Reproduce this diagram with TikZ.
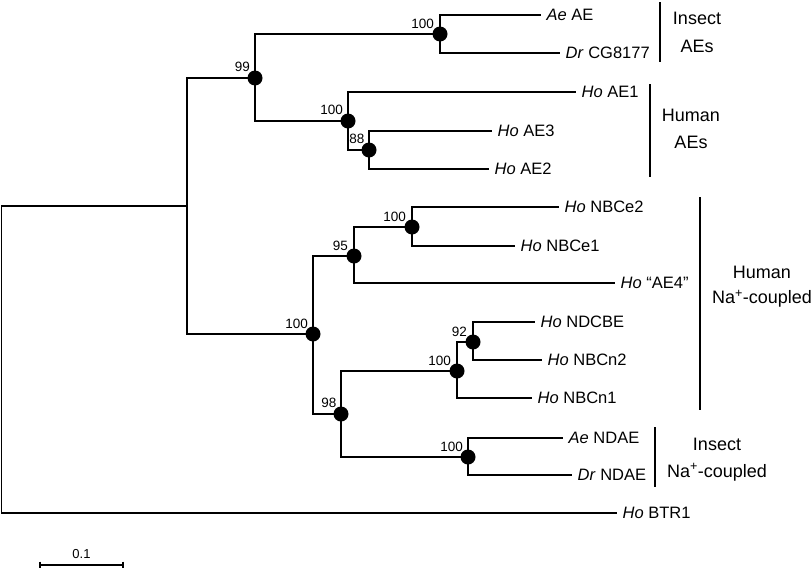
\documentclass[tikz,border=0pt]{standalone}
\usepackage{fontspec}
\setmainfont{Liberation Sans}
\usetikzlibrary{calc}
\begin{document}
\begin{tikzpicture}[x=1pt,y=-1pt,
  br/.style={line width=1.8pt},
  bar/.style={line width=2.6pt},
  dot/.style={circle, fill=black, inner sep=0pt, minimum size=15pt},
  leaf/.style={anchor=west, inner sep=0pt, xshift=5.5pt, text height=11.8pt, text depth=0pt, font=\fontsize{16.5}{19}\selectfont},
  boot/.style={anchor=east, inner sep=0pt, text height=9.7pt, text depth=0pt, font=\fontsize{13.5}{15}\selectfont},
  grp/.style={anchor=base, inner sep=0pt, font=\fontsize{18}{22}\selectfont}
]
\useasboundingbox (0,0) rectangle (812,568);

% internal node coordinates
\coordinate (cR) at (1.5,360);
\coordinate (cM) at (187,206);
\coordinate (c99) at (255,78);
\coordinate (cIAE) at (440,34);
\coordinate (cHAE) at (348,121);
\coordinate (c88) at (369,150);
\coordinate (cNa) at (313,334);
\coordinate (c95) at (354,256);
\coordinate (cNBCe) at (412,227);
\coordinate (c98) at (341,414);
\coordinate (cNBCn) at (457,371);
\coordinate (c92) at (473,342);
\coordinate (cNDAE) at (468,457);

% leaf end coordinates
\coordinate (eAeAE) at (541,15);
\coordinate (eDrCG) at (560,53);
\coordinate (eAE1) at (576,92);
\coordinate (eAE3) at (492,131);
\coordinate (eAE2) at (489,169);
\coordinate (eNBCe2) at (559,207);
\coordinate (eNBCe1) at (515,246);
\coordinate (eAE4) at (615,283);
\coordinate (eNDCBE) at (535,322);
\coordinate (eNBCn2) at (542,360);
\coordinate (eNBCn1) at (532,398);
\coordinate (eAeNDAE) at (563,438);
\coordinate (eDrNDAE) at (572,475);
\coordinate (eBTR1) at (617,513);

% branches
\draw[br] (cR) |- (cM);
\draw[br] (cR) |- (eBTR1);
\draw[br] (cM) |- (c99);
\draw[br] (cM) |- (cNa);
\draw[br] (c99) |- (cIAE);
\draw[br] (c99) |- (cHAE);
\draw[br] (cIAE) |- (eAeAE);
\draw[br] (cIAE) |- (eDrCG);
\draw[br] (cHAE) |- (eAE1);
\draw[br] (cHAE) |- (c88);
\draw[br] (c88) |- (eAE3);
\draw[br] (c88) |- (eAE2);
\draw[br] (cNa) |- (c95);
\draw[br] (cNa) |- (c98);
\draw[br] (c95) |- (cNBCe);
\draw[br] (c95) |- (eAE4);
\draw[br] (cNBCe) |- (eNBCe2);
\draw[br] (cNBCe) |- (eNBCe1);
\draw[br] (c98) |- (cNBCn);
\draw[br] (c98) |- (cNDAE);
\draw[br] (cNBCn) |- (c92);
\draw[br] (cNBCn) |- (eNBCn1);
\draw[br] (c92) |- (eNDCBE);
\draw[br] (c92) |- (eNBCn2);
\draw[br] (cNDAE) |- (eAeNDAE);
\draw[br] (cNDAE) |- (eDrNDAE);

% dots
\foreach \n in {c99,cIAE,cHAE,c88,cNa,c95,cNBCe,c98,cNBCn,c92,cNDAE}
  \node[dot] (d\n) at (\n) {};

% bootstrap values
\node[boot] (b99) at (250,67) {99};
\node[boot] (bIAE) at (434,24) {100};
\node[boot] (bHAE) at (343,110) {100};
\node[boot] (b88) at (364.5,139) {88};
\node[boot] (bNBCe) at (406,217) {100};
\node[boot] (b95) at (348,246) {95};
\node[boot] (bNa) at (308,324) {100};
\node[boot] (b92) at (467,332) {92};
\node[boot] (bNBCn) at (451,361) {100};
\node[boot] (b98) at (336.5,403) {98};
\node[boot] (bNDAE) at (463,447) {100};

% leaf labels
\node[leaf] (lAeAE) at (eAeAE) {\textit{Ae} AE};
\node[leaf] (lDrCG) at (eDrCG) {\textit{Dr} CG8177};
\node[leaf] (lAE1) at (eAE1) {\textit{Ho} AE1};
\node[leaf] (lAE3) at (eAE3) {\textit{Ho} AE3};
\node[leaf] (lAE2) at (eAE2) {\textit{Ho} AE2};
\node[leaf] (lNBCe2) at (eNBCe2) {\textit{Ho} NBCe2};
\node[leaf] (lNBCe1) at (eNBCe1) {\textit{Ho} NBCe1};
\node[leaf] (lAE4) at (eAE4) {\textit{Ho} “AE4”};
\node[leaf] (lNDCBE) at (eNDCBE) {\textit{Ho} NDCBE};
\node[leaf] (lNBCn2) at (eNBCn2) {\textit{Ho} NBCn2};
\node[leaf] (lNBCn1) at (eNBCn1) {\textit{Ho} NBCn1};
\node[leaf] (lAeNDAE) at (eAeNDAE) {\textit{Ae} NDAE};
\node[leaf] (lDrNDAE) at (eDrNDAE) {\textit{Dr} NDAE};
\node[leaf] (lBTR1) at (eBTR1) {\textit{Ho} BTR1};

% group bars
\coordinate (gIAEt) at (660,2);   \coordinate (gIAEb) at (660,62);
\coordinate (gHAEt) at (650,84);  \coordinate (gHAEb) at (650,177);
\coordinate (gHNat) at (700,197); \coordinate (gHNab) at (700,410);
\coordinate (gINat) at (655,427); \coordinate (gINab) at (655,487);
\draw[bar] (gIAEt) -- (gIAEb);
\draw[bar] (gHAEt) -- (gHAEb);
\draw[bar] (gHNat) -- (gHNab);
\draw[bar] (gINat) -- (gINab);

% group labels
\node[grp] (tIAE1) at (697,24) {Insect};
\node[grp] (tIAE2) at (697,52.5) {AEs};
\node[grp] (tHAE1) at (691,121.5) {Human};
\node[grp] (tHAE2) at (691,148) {AEs};
\node[grp] (tHNa1) at (762,278) {Human};
\node[grp] (tHNa2) at (762,303.5) {Na\textsuperscript{+}-coupled};
\node[grp] (tINa1) at (717,450.5) {Insect};
\node[grp] (tINa2) at (717,477) {Na\textsuperscript{+}-coupled};

% scale bar
\coordinate (sL) at (40,565);
\coordinate (sR) at (123,565);
\draw[br] (sL) -- (sR);
\draw[br] ($(sL)+(0,-3.5)$) -- ($(sL)+(0,3.5)$);
\draw[br] ($(sR)+(0,-3.5)$) -- ($(sR)+(0,3.5)$);
\node[anchor=base, inner sep=0pt, font=\fontsize{13}{15}\selectfont] (sT) at (81.5,558) {0.1};
\end{tikzpicture}
\end{document}
